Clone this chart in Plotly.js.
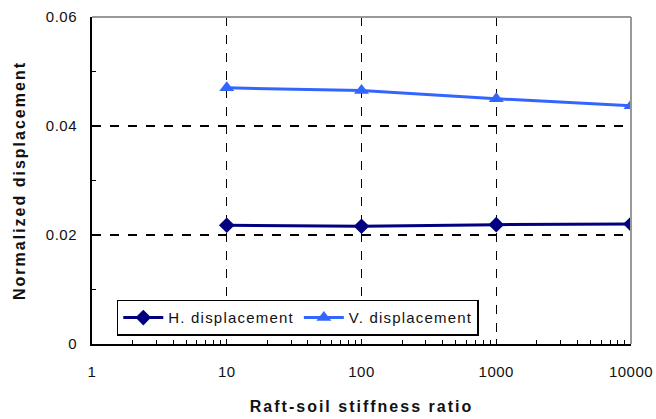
<!DOCTYPE html>
<html>
<head>
<meta charset="utf-8">
<script src="https://cdn.plot.ly/plotly-3.0.1.min.js"></script>
<style>
html,body{margin:0;padding:0;background:#fff;}
#chart{width:656px;height:419px;}
.xtick text, .ytick text{letter-spacing:0.5px;}
.legendtext{letter-spacing:1.2px;}
.xtitle, .ytitle{letter-spacing:2px;}
</style>
</head>
<body>
<div id="chart"></div>
<script>
const stiffnessRatio = [10, 100, 1000, 10000];
const hDisplacement = [0.0218, 0.0216, 0.0219, 0.0220];
const vDisplacement = [0.0470, 0.0465, 0.0450, 0.0437];
const xTickVals = [1, 10, 100, 1000, 10000];
const xTickText = ['1', '10', '100', '1000', '10000'];
const yTickVals = [0, 0.02, 0.04, 0.06];
const yTickText = ['0', '0.02', '0.04', '0.06'];

const font = 'Liberation Sans, Arial, sans-serif';

const traces = [
  {
    x: stiffnessRatio, y: hDisplacement, name: 'H. displacement',
    mode: 'lines+markers', type: 'scatter',
    line: {color: '#000080', width: 3},
    marker: {symbol: 'diamond', size: 12, color: '#000080'}
  },
  {
    x: stiffnessRatio, y: vDisplacement, name: 'V. displacement',
    mode: 'lines+markers', type: 'scatter',
    line: {color: '#3366ff', width: 3},
    marker: {symbol: 'triangle-up', size: 13, color: '#3366ff'}
  }
];

const layout = {
  width: 656, height: 419,
  margin: {l: 92, r: 25, t: 17, b: 75},
  paper_bgcolor: '#fff', plot_bgcolor: '#fff',
  font: {family: font, size: 15, color: '#111'},
  showlegend: true,
  legend: {
    orientation: 'h', x: 0.046, y: 0.135, xanchor: 'left', yanchor: 'top',
    bgcolor: '#fff', bordercolor: '#000', borderwidth: 1.5,
    font: {family: font, size: 15, color: '#111'},
    itemwidth: 40, tracegroupgap: 0
  },
  xaxis: {
    type: 'log', range: [0, 4],
    tickmode: 'array', tickvals: xTickVals, ticktext: xTickText,
    ticks: 'inside', ticklen: 5, tickcolor: '#000', tickwidth: 1,
    ticklabelstandoff: 13,
    tickfont: {family: font, size: 15, color: '#111'},
    showgrid: true, gridcolor: '#000', gridwidth: 1.2, griddash: 'dash',
    showline: true, linecolor: '#000', linewidth: 2,
    zeroline: false,
    minor: {ticks: 'inside', ticklen: 4, tickcolor: '#000', tickwidth: 1, dtick: 'D1', showgrid: false},
    title: {text: '<b>Raft-soil stiffness ratio</b>', font: {family: font, size: 16, color: '#111'}, standoff: 22}
  },
  yaxis: {
    range: [0, 0.06],
    tickmode: 'array', tickvals: yTickVals, ticktext: yTickText,
    ticks: 'inside', ticklen: 5, tickcolor: '#000', tickwidth: 1,
    ticklabelstandoff: 10,
    tickfont: {family: font, size: 15, color: '#111'},
    showgrid: true, gridcolor: '#000', gridwidth: 1.2, griddash: 'dash',
    showline: true, linecolor: '#000', linewidth: 2,
    zeroline: false,
    minor: {ticks: 'inside', ticklen: 4, tickcolor: '#000', tickwidth: 1, dtick: 0.01, showgrid: false},
    title: {text: '<b>Normalized displacement</b>', font: {family: font, size: 16, color: '#111'}, standoff: 16}
  },
  shapes: [
    {type: 'line', xref: 'paper', yref: 'paper', x0: 0, x1: 1, y0: 1, y1: 1, line: {color: '#999', width: 2}, layer: 'above'},
    {type: 'line', xref: 'paper', yref: 'paper', x0: 1, x1: 1, y0: 0, y1: 1, line: {color: '#999', width: 2}, layer: 'above'}
  ]
};

Plotly.newPlot('chart', traces, layout, {displayModeBar: false, staticPlot: true});
</script>
</body>
</html>
